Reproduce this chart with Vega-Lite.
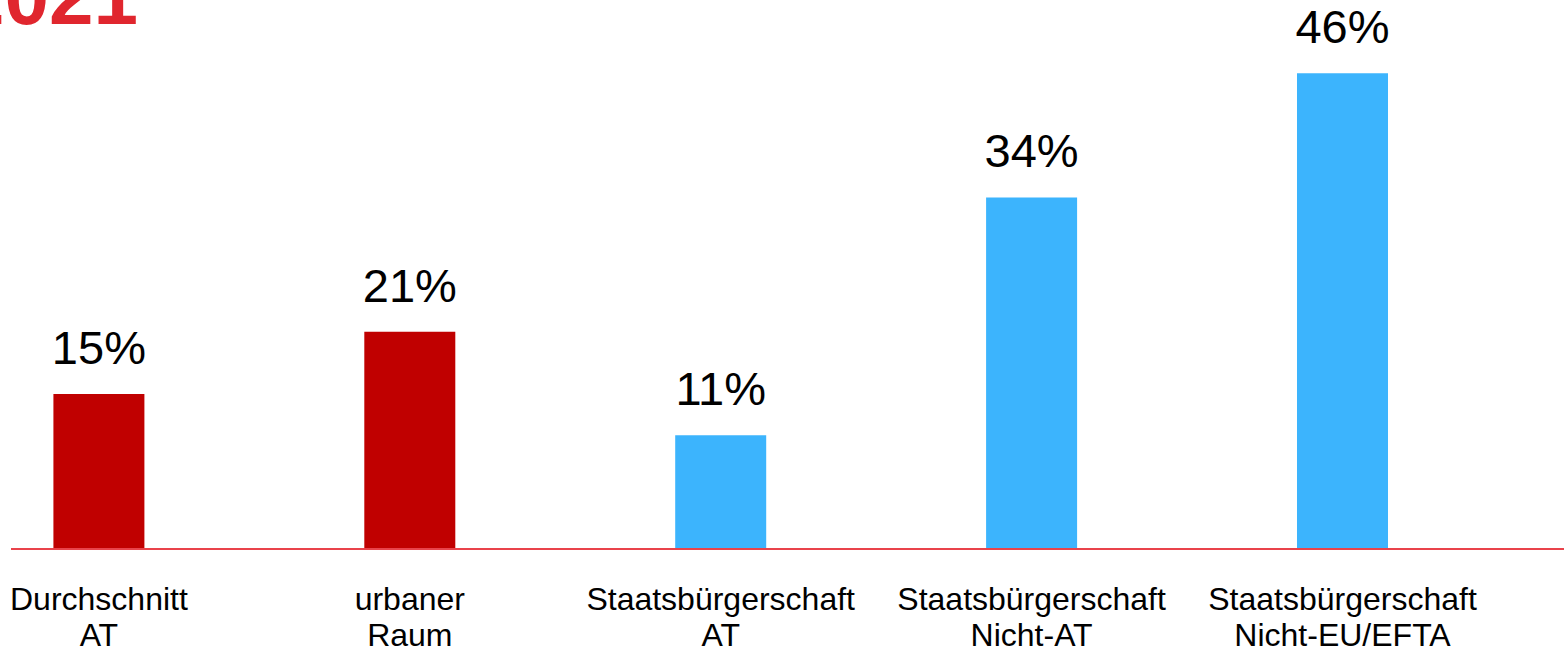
{
  "$schema": "https://vega.github.io/schema/vega-lite/v6.json",
  "autosize": {"type": "none"},
  "width": 1553,
  "height": 517,
  "padding": {"left": 11, "top": 32, "right": 0, "bottom": 102},
  "background": "white",
  "config": {"view": {"stroke": null}, "font": "Liberation Sans"},
  "title": {
    "text": "2021",
    "anchor": "start",
    "frame": "group",
    "fontSize": 80,
    "fontWeight": "bold",
    "font": "Liberation Sans",
    "color": "#e0262e",
    "baseline": "alphabetic",
    "dx": -51,
    "dy": 105,
    "offset": 6
  },
  "data": {
    "values": [
      {"kategorie": "Durchschnitt\nAT", "gruppe": "Gesamt", "anteil": 0.15},
      {"kategorie": "urbaner\nRaum", "gruppe": "Gesamt", "anteil": 0.21},
      {"kategorie": "Staatsbürgerschaft\nAT", "gruppe": "Staatsbürgerschaft", "anteil": 0.11},
      {"kategorie": "Staatsbürgerschaft\nNicht-AT", "gruppe": "Staatsbürgerschaft", "anteil": 0.34},
      {"kategorie": "Staatsbürgerschaft\nNicht-EU/EFTA", "gruppe": "Staatsbürgerschaft", "anteil": 0.46}
    ]
  },
  "encoding": {
    "x": {
      "field": "kategorie",
      "type": "nominal",
      "sort": null,
      "axis": null,
      "scale": {"range": [0, 1419.4], "paddingInner": 0.7073, "paddingOuter": 0.1364}
    }
  },
  "layer": [
    {
      "mark": {"type": "bar"},
      "encoding": {
        "y": {"field": "anteil", "type": "quantitative", "axis": null, "scale": {"domain": [0, 0.5], "nice": false}},
        "color": {
          "field": "gruppe",
          "type": "nominal",
          "legend": null,
          "scale": {"domain": ["Gesamt", "Staatsbürgerschaft"], "range": ["#c00000", "#3cb4fd"]}
        }
      }
    },
    {
      "mark": {"type": "text", "fontSize": 47, "font": "Liberation Sans", "color": "#000000", "baseline": "alphabetic", "dy": -30},
      "encoding": {
        "y": {"field": "anteil", "type": "quantitative"},
        "text": {"field": "anteil", "type": "quantitative", "format": ".0%"}
      }
    },
    {
      "mark": {"type": "text", "fontSize": 32, "font": "Liberation Sans", "color": "#000000", "baseline": "top", "lineBreak": "\n", "lineHeight": 36, "dy": 36},
      "encoding": {
        "y": {"datum": 0, "type": "quantitative"},
        "text": {"field": "kategorie", "type": "nominal"}
      }
    },
    {
      "mark": {"type": "rule", "color": "#e8434b", "strokeWidth": 1.5},
      "encoding": {"y": {"datum": 0, "type": "quantitative"}, "x": null}
    }
  ]
}
